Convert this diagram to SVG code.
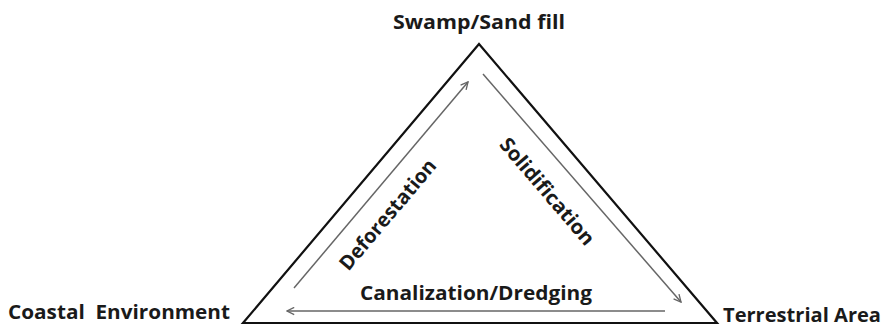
<svg xmlns="http://www.w3.org/2000/svg" width="881" height="329" viewBox="0 0 881 329">
<defs>
<style>
.lbl{font-family:"Open Sans","Liberation Sans",sans-serif;font-weight:bold;font-size:20px;fill:#1a1a1a}
.edge{fill:none;stroke:#111;stroke-width:2.2;stroke-linejoin:miter}
.arr{fill:none;stroke:#666;stroke-width:1.5;marker-end:url(#ah)}
</style>
<marker id="ah" viewBox="0 0 10 10" refX="9" refY="5" markerWidth="9" markerHeight="9" markerUnits="userSpaceOnUse" orient="auto">
<path d="M1,1 L9,5 L1,9" fill="none" stroke="#666" stroke-width="1.5"/>
</marker>
</defs>
<rect width="881" height="329" fill="#fff"/>
<g id="triangle">
<polygon class="edge" points="479,44 243,323 717,323"/>
</g>
<g id="node-swamp"><text class="lbl" x="479" y="29" text-anchor="middle" textLength="172" lengthAdjust="spacingAndGlyphs">Swamp/Sand fill</text></g>
<g id="node-coastal"><text class="lbl" x="8" y="319" xml:space="preserve" textLength="222" lengthAdjust="spacingAndGlyphs">Coastal  Environment</text></g>
<g id="node-terrestrial"><text class="lbl" x="723" y="322" textLength="158" lengthAdjust="spacingAndGlyphs">Terrestrial Area</text></g>
<g id="connectors">
<line class="arr" x1="294" y1="288" x2="468" y2="82"/>
<line class="arr" x1="483" y1="74" x2="681" y2="302"/>
<line class="arr" x1="665" y1="311" x2="287" y2="311"/>
<text class="lbl" x="476" y="300" text-anchor="middle" textLength="232" lengthAdjust="spacingAndGlyphs">Canalization/Dredging</text>
<text class="lbl" transform="translate(393,219) rotate(-49.8)" text-anchor="middle" textLength="138" lengthAdjust="spacingAndGlyphs">Deforestation</text>
<text class="lbl" transform="translate(542,196) rotate(49.5)" text-anchor="middle" textLength="134" lengthAdjust="spacingAndGlyphs">Solidification</text>
</g>
</svg>
